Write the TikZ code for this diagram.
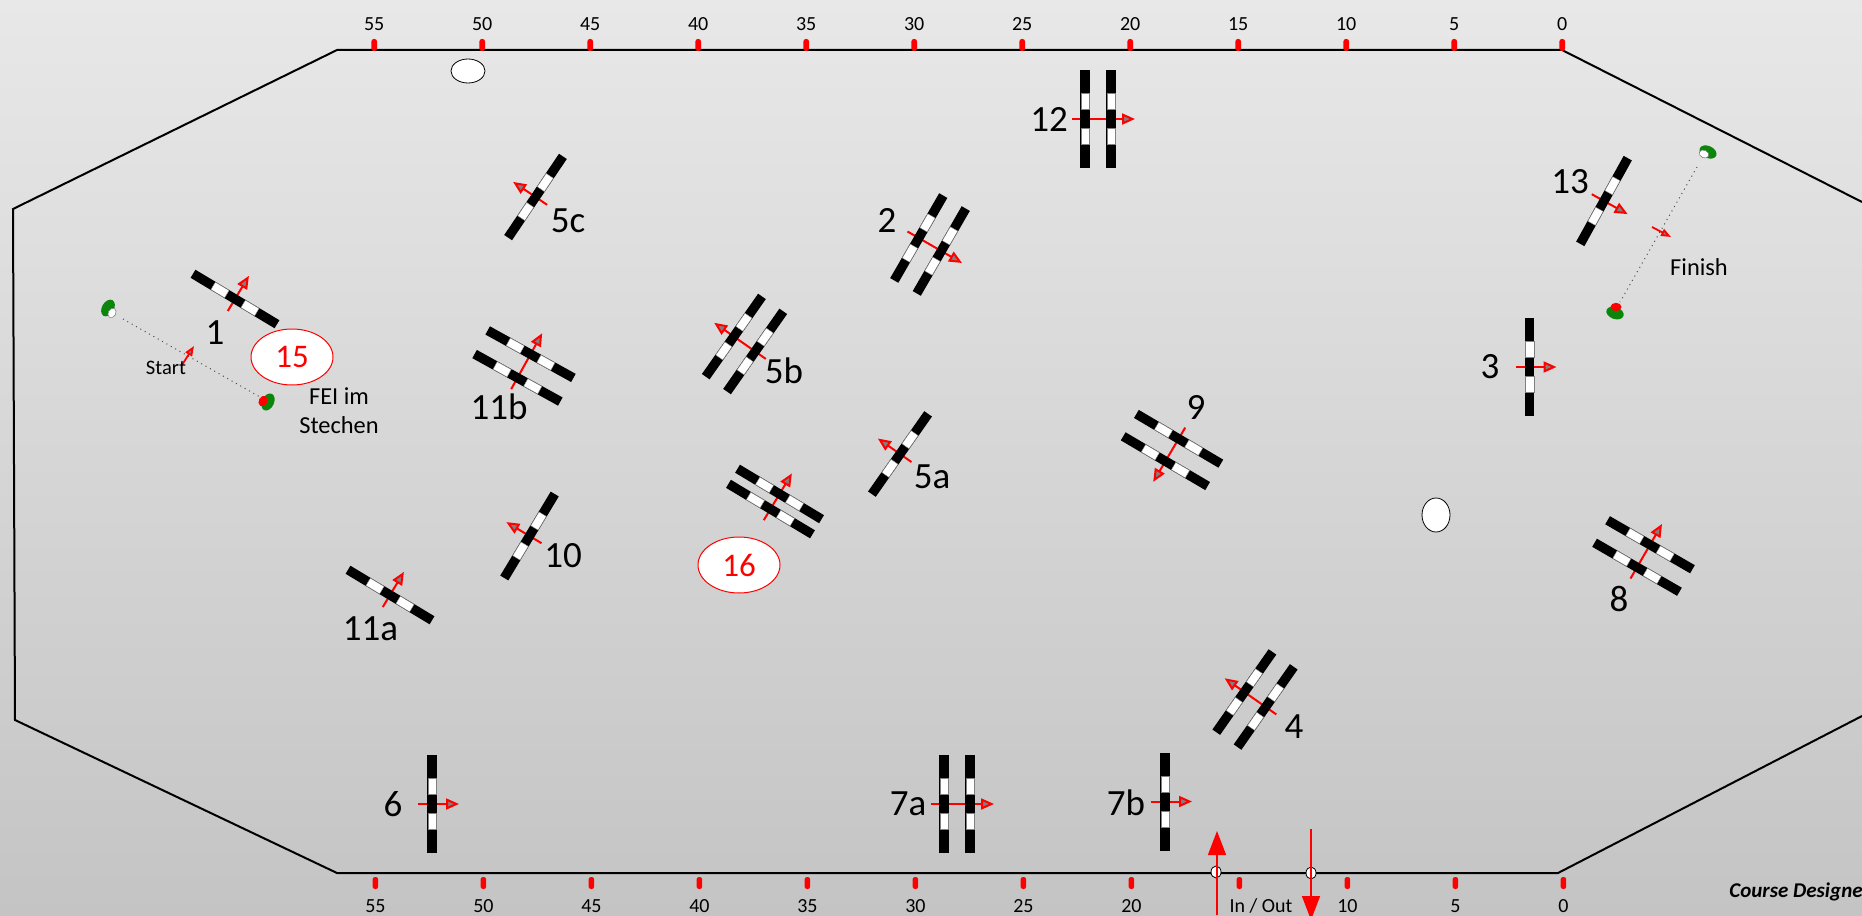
\documentclass[tikz,border=0pt]{standalone}
\usepackage{fontspec}
\setmainfont{Carlito}
\usetikzlibrary{arrows.meta,shapes.geometric}
\definecolor{ringtop}{HTML}{E8E8E8}
\definecolor{ringbottom}{HTML}{C4C4C4}
\definecolor{flagred}{HTML}{FF0000}
\definecolor{flaggreen}{HTML}{0B860B}
\definecolor{tipgrey}{HTML}{808080}
\tikzset{
  every node/.style={font=\fontsize{18}{20}\selectfont,inner sep=0pt},
  fence/.style={line width=1pt,draw=black},
  railbar/.style={fill=black},
  railgap/.style={fill=white,draw=tipgrey,line width=.2pt},
  jumpdir/.style={-{Triangle[length=6.5pt,width=5.5pt,fill=tipgrey]},draw=flagred,line width=1pt},
  smalldir/.style={-{Triangle[length=5pt,width=3.8pt,fill=tipgrey]},draw=flagred,line width=.9pt},
  gate/.style={-{Triangle[length=12pt,width=9pt]},draw=flagred,fill=flagred,line width=.7pt},
  lineup/.style={dotted,draw=black!70,line width=.5pt},
  num/.style={font=\fontsize{18.5}{20}\selectfont},
  small/.style={font=\fontsize{10.3}{12}\selectfont},
  note/.style={font=\fontsize{12.2}{13}\selectfont},
  ruler/.style={font=\fontsize{10}{12}\selectfont},
  tick/.style={rectangle,fill=flagred,rounded corners=1.2pt,minimum width=2.8pt,minimum height=6pt},
  extra/.style={ellipse,draw=flagred,fill=white,line width=.5pt,minimum width=41pt,minimum height=28pt,text=flagred,font=\fontsize{16.5}{18}\selectfont},
  obstacle/.style={ellipse,draw=black,fill=white,line width=.4pt},
  bush/.style={ellipse,fill=flaggreen,minimum width=9pt,minimum height=6pt},
  flagred/.style={ellipse,fill=flagred,minimum width=5.5pt,minimum height=4.2pt},
  flagwhite/.style={ellipse,fill=white,draw=tipgrey,line width=.3pt,minimum width=5pt,minimum height=3.8pt},
  ringpost/.style={ellipse,draw=black,fill=white,line width=.4pt,minimum width=5pt,minimum height=6pt},
  pics/rail/.style={code={
    \draw[jumpdir] (-14,0) -- (27,0);
    \fill[railbar] (-4.7,-49) rectangle (4.7,49);
    \filldraw[railgap] (-4.3,-25.5) rectangle (4.3,-9.5);
    \filldraw[railgap] (-4.3,9.5) rectangle (4.3,25.5);
  }},
  pics/railpair/.style={code={
    \draw[jumpdir] (-#1/2-13,0) -- (#1/2+24,0);
    \foreach \side in {-1,1} {
      \fill[railbar] (\side*#1/2-4.7,-49) rectangle (\side*#1/2+4.7,49);
      \filldraw[railgap] (\side*#1/2-4.3,-25.5) rectangle (\side*#1/2+4.3,-9.5);
      \filldraw[railgap] (\side*#1/2-4.3,9.5) rectangle (\side*#1/2+4.3,25.5);
    }
  }}
}
\begin{document}
\begin{tikzpicture}[x=.5pt,y=-.5pt]
\useasboundingbox (0,0) rectangle (1862,915);
\clip (0,0) rectangle (1862,915);
\shade[top color=ringtop,bottom color=ringbottom] (0,0) rectangle (1862,915);
\draw[fence] (1862,202) -- (1562,50) -- (337,50) -- (13,209) -- (15,720) -- (337,873) -- (1558,873) -- (1862,716);

\foreach \n in {55,50,...,0} {
  \node[tick] (top\n) at ({1562.2-\n*21.6},45) {};
  \node[ruler] (toplabel\n) at ({1562.2-\n*21.6},24) {\n};
  \node[tick] (bottom\n) at ({1563.4-\n*21.6},883) {};
}
\foreach \n in {55,50,...,20,10,5,0}
  \node[ruler] (bottomlabel\n) at ({1563.4-\n*21.6},906) {\n};
\node[ruler] (inout) at (1261,906) {In / Out};

\node[obstacle,minimum width=17pt,minimum height=12pt] (pond) at (468,71) {};
\node[obstacle,minimum width=14pt,minimum height=17pt] (tree) at (1436,515) {};

\pic[rotate=59] (jump1) at (235,299) {rail};
\pic[rotate=-30] (jump2) at (930,244.5) {railpair=26};
\pic (jump3) at (1529.5,367) {rail};
\pic[rotate=145] (jump4) at (1255,699.5) {railpair=26};
\pic[rotate=145] (jump5a) at (900,454) {rail};
\pic[rotate=145] (jump5b) at (744.5,344) {railpair=26};
\pic[rotate=146] (jump5c) at (535.5,197) {rail};
\pic (jump6) at (432,804) {rail};
\pic (jump7a) at (957,804) {railpair=26};
\pic (jump7b) at (1165,801.5) {rail};
\pic[rotate=60] (jump8) at (1643.5,556) {railpair=26};
\pic[rotate=-120.5] (jump9) at (1172,450) {railpair=26};
\pic[rotate=149] (jump10) at (529.5,536) {rail};
\pic[rotate=59] (jump11a) at (390,595) {rail};
\pic[rotate=61] (jump11b) at (524,366) {railpair=27};
\pic (jump12) at (1098,119) {railpair=26};
\pic[rotate=-29] (jump13) at (1604,201) {rail};
\pic[rotate=59] (jump16) at (775,501.5) {railpair=17.6};

\node[num] (n1) at (215,333) {1};
\node[num] (n2) at (887,220) {2};
\node[num] (n3) at (1490,367) {3};
\node[num] (n4) at (1294,727) {4};
\node[num] (n5a) at (932,477) {5a};
\node[num] (n5b) at (784,370.5) {5b};
\node[num] (n5c) at (568,221) {5c};
\node[num] (n6) at (393,804) {6};
\node[num] (n7a) at (908,804) {7a};
\node[num] (n7b) at (1126,803) {7b};
\node[num] (n8) at (1619,598.5) {8};
\node[num] (n9) at (1196,407) {9};
\node[num] (n10) at (563,556) {10};
\node[num] (n11a) at (370.5,629) {11a};
\node[num] (n11b) at (499,407) {11b};
\node[num] (n12) at (1049,119) {12};
\node[num] (n13) at (1570,182) {13};
\node[extra] (n15) at (292,357) {15};
\node[extra] (n16) at (739,565) {16};

\node[bush,rotate=60] (startbush) at (108,308) {};
\node[flagwhite,rotate=60] (startflag) at (112,313) {};
\node[bush,rotate=65] (startbushb) at (268,402) {};
\node[flagred,rotate=60] (startflagb) at (263,401) {};
\coordinate (startleft) at (123,319);
\coordinate (startright) at (260,397);
\draw[lineup] (startleft) -- (startright);
\coordinate (startfrom) at (182,365);
\coordinate (startto) at (194,346);
\draw[smalldir] (startfrom) -- (startto);
\node[small] (start) at (166,368) {Start};
\node[note] (fei) at (339,396) {FEI im};
\node[note] (stechen) at (339,425) {Stechen};

\node[bush,rotate=-25] (finishbush) at (1708,152) {};
\node[flagwhite,rotate=-25] (finishflag) at (1704,154) {};
\node[bush,rotate=-20] (finishbushb) at (1615,313) {};
\node[flagred] (finishflagb) at (1616,307) {};
\coordinate (finishtop) at (1697,167);
\coordinate (finishbottom) at (1620,302);
\draw[lineup] (finishtop) -- (finishbottom);
\coordinate (finishfrom) at (1652,227);
\coordinate (finishto) at (1671,237);
\draw[smalldir] (finishfrom) -- (finishto);
\node[note] (finish) at (1699,267) {Finish};

\node[ringpost] (postin) at (1216,872) {};
\node[ringpost] (postout) at (1311,873) {};
\coordinate (infrom) at (1217,915);
\coordinate (into) at (1217,831);
\coordinate (outfrom) at (1311,829);
\coordinate (outto) at (1311,920);
\draw[gate] (infrom) -- (into);
\draw[gate] (outfrom) -- (outto);

\node[anchor=west,font=\fontsize{10.5}{12}\selectfont\bfseries\itshape] (designer) at (1729,892) {Course Designe};
\end{tikzpicture}
\end{document}
